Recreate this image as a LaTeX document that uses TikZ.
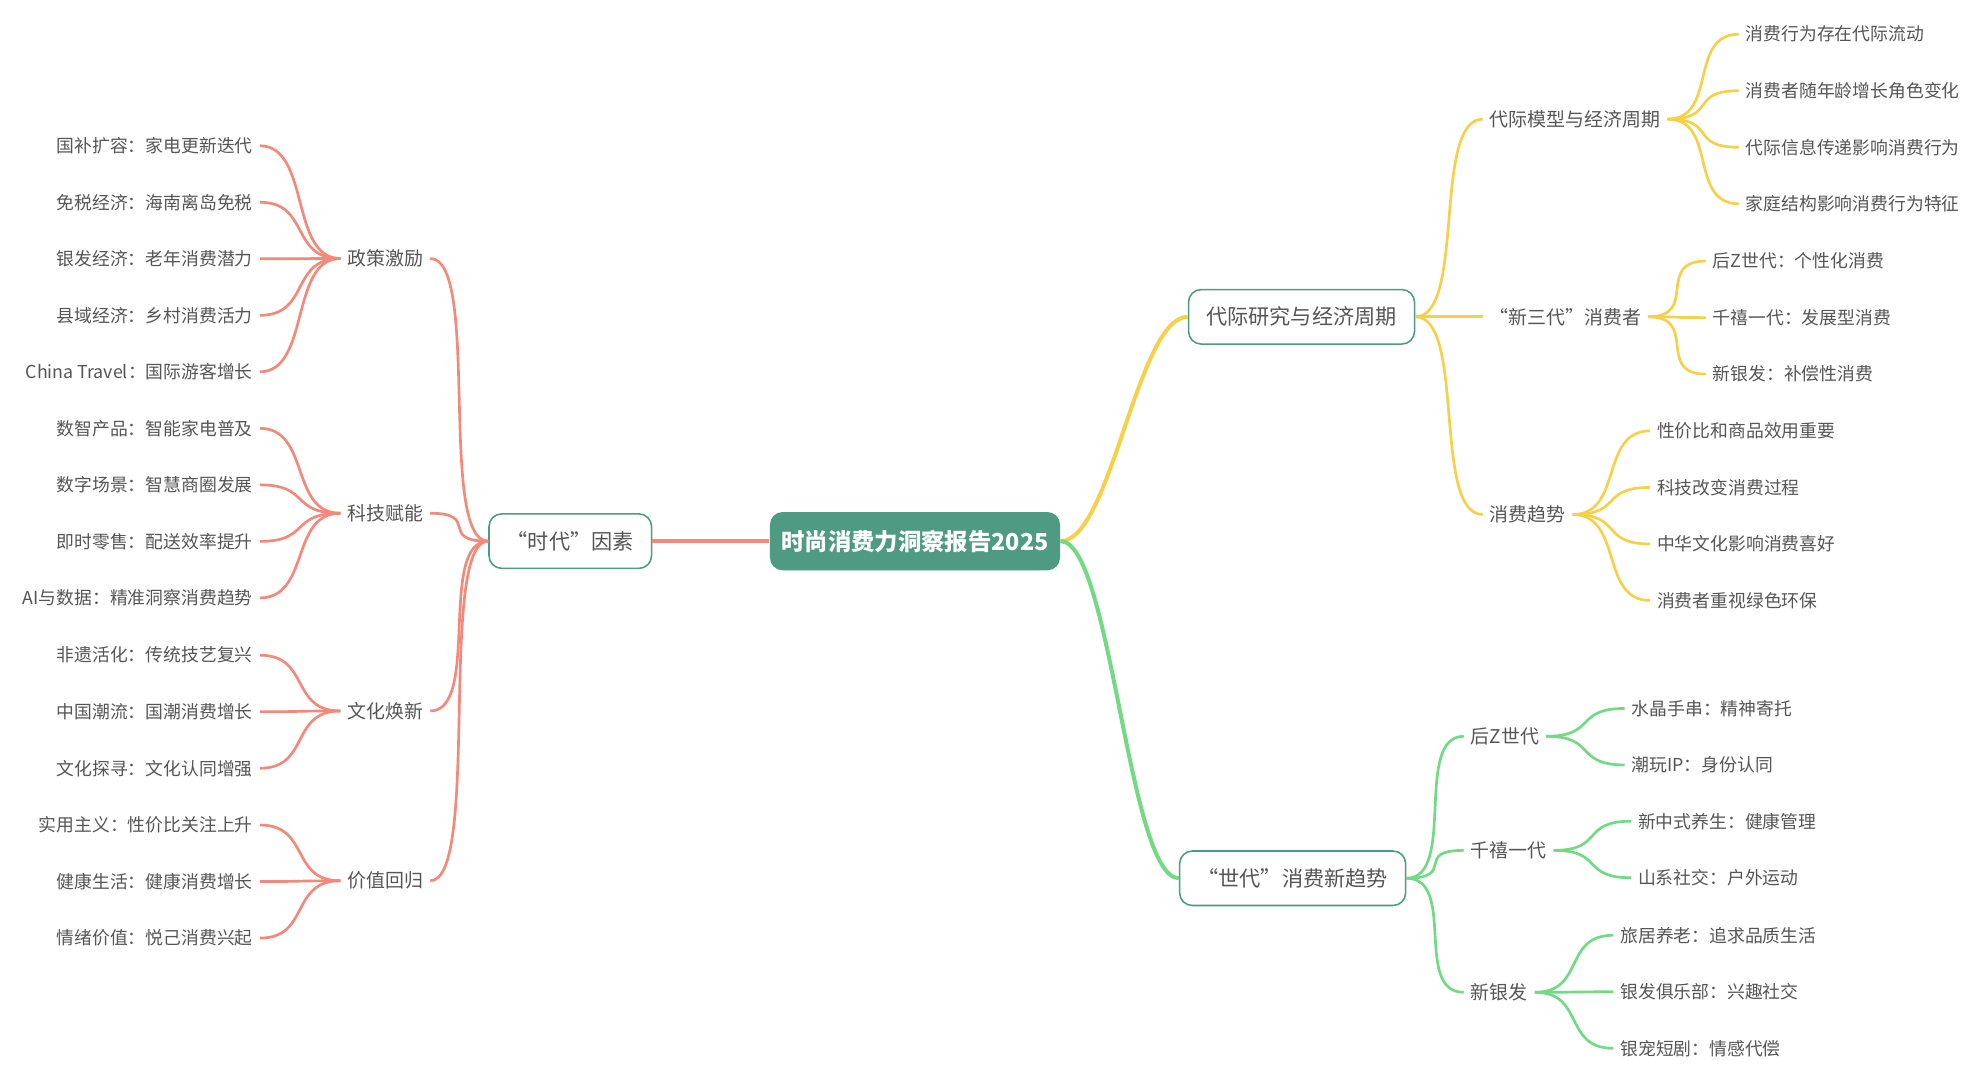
\documentclass[tikz,border=0pt]{standalone}
\usepackage{fontspec}
\setmainfont{Noto Sans CJK SC}
\usetikzlibrary{positioning}
\definecolor{rootteal}{HTML}{4E9A82}
\definecolor{salmon}{HTML}{F2897A}
\definecolor{sun}{HTML}{F7D04A}
\definecolor{leaf}{HTML}{72D984}
\definecolor{txt}{HTML}{555555}
\tikzset{%
     root/.style = { fill=rootteal, text=white, rounded corners=2mm, font=\fontsize{10.5}{12}\selectfont\bfseries,
                     minimum width=4.58cm, minimum height=0.92cm },
     main/.style = { draw=rootteal, fill=white, text=txt, rounded corners=2mm, line width=0.7pt,
                     font=\fontsize{9.5}{11}\selectfont, minimum height=0.86cm, inner xsep=8pt },
      sub/.style = { text=txt, font=\fontsize{8.5}{10}\selectfont, inner sep=3pt },
    leafL/.style = { sub, anchor=east, font=\fontsize{8}{10}\selectfont },
    leafR/.style = { sub, anchor=west, font=\fontsize{8}{10}\selectfont },
     link/.style = { line width=1.2pt },
    trunk/.style = { line width=1.8pt }
}
\newcommand\bough[3][link]{\draw[#1] (#2) .. controls +(40,0) and +(-40,0) .. (#3);}
\newcommand\boughL[3][link]{\draw[#1] (#2) .. controls +(-40,0) and +(40,0) .. (#3);}
\begin{document}
\begin{tikzpicture}[x=0.02cm, y=-0.02cm]
  \useasboundingbox (0,0) rectangle (1560,852);

  \node[root] (root) at (722,427) {时尚消费力洞察报告2025};

  % left side
  \node[main] (era) at (450,427) {“时代”因素};
  \draw[trunk,salmon] (root.west) -- (era.east);

  \node[sub] (policy) at (304,204) {政策激励};
  \node[sub] (tech)   at (304,405) {科技赋能};
  \node[sub] (cult)   at (304,561) {文化焕新};
  \node[sub] (value)  at (304,695) {价值回归};
  \foreach \n in {policy,tech,cult,value}
    \boughL[link,salmon]{era.west}{\n.east};

  \foreach \t [count=\i] in {国补扩容：家电更新迭代,免税经济：海南离岛免税,银发经济：老年消费潜力,
                             县域经济：乡村消费活力,China Travel：国际游客增长}
    \node[leafL] (policy-\i) at (205,115+44.6*\i-44.6) {\t};
  \foreach \t [count=\i] in {数智产品：智能家电普及,数字场景：智慧商圈发展,即时零售：配送效率提升,
                             AI与数据：精准洞察消费趋势}
    \node[leafL] (tech-\i) at (205,338+44.6*\i-44.6) {\t};
  \foreach \t [count=\i] in {非遗活化：传统技艺复兴,中国潮流：国潮消费增长,文化探寻：文化认同增强}
    \node[leafL] (cult-\i) at (205,517+44.6*\i-44.6) {\t};
  \foreach \t [count=\i] in {实用主义：性价比关注上升,健康生活：健康消费增长,情绪价值：悦己消费兴起}
    \node[leafL] (value-\i) at (205,651+44.6*\i-44.6) {\t};

  \foreach \i in {1,...,5} \boughL[link,salmon]{policy.west}{policy-\i.east};
  \foreach \i in {1,...,4} \boughL[link,salmon]{tech.west}{tech-\i.east};
  \foreach \i in {1,...,3} \boughL[link,salmon]{cult.west}{cult-\i.east};
  \foreach \i in {1,...,3} \boughL[link,salmon]{value.west}{value-\i.east};

  % right side, upper
  \node[main] (gen) at (1027,250) {代际研究与经济周期};
  \bough[trunk,sun]{root.east}{gen.west}

  \node[sub,anchor=west] (model) at (1170,94)  {代际模型与经济周期};
  \node[sub,anchor=west] (three) at (1170,250) {“新三代”消费者};
  \node[sub,anchor=west] (trend) at (1170,406) {消费趋势};
  \foreach \n in {model,three,trend}
    \bough[link,sun]{gen.east}{\n.west};

  \foreach \t [count=\i] in {消费行为存在代际流动,消费者随年龄增长角色变化,代际信息传递影响消费行为,
                             家庭结构影响消费行为特征}
    \node[leafR] (model-\i) at (1372,27+44.6*\i-44.6) {\t};
  \foreach \t [count=\i] in {后Z世代：个性化消费,千禧一代：发展型消费,新银发：补偿性消费}
    \node[leafR] (three-\i) at (1346,206+44.6*\i-44.6) {\t};
  \foreach \t [count=\i] in {性价比和商品效用重要,科技改变消费过程,中华文化影响消费喜好,消费者重视绿色环保}
    \node[leafR] (trend-\i) at (1302,340+44.6*\i-44.6) {\t};

  \foreach \i in {1,...,4} \bough[link,sun]{model.east}{model-\i.west};
  \foreach \i in {1,...,3} \bough[link,sun]{three.east}{three-\i.west};
  \foreach \i in {1,...,4} \bough[link,sun]{trend.east}{trend-\i.west};

  % right side, lower
  \node[main] (ages) at (1020,693) {“世代”消费新趋势};
  \bough[trunk,leaf]{root.east}{ages.west}

  \node[sub,anchor=west] (genz)  at (1155,581) {后Z世代};
  \node[sub,anchor=west] (mill)  at (1155,671) {千禧一代};
  \node[sub,anchor=west] (silver) at (1155,783) {新银发};
  \foreach \n in {genz,mill,silver}
    \bough[link,leaf]{ages.east}{\n.west};

  \foreach \t [count=\i] in {水晶手串：精神寄托,潮玩IP：身份认同}
    \node[leafR] (genz-\i) at (1282,559+44.6*\i-44.6) {\t};
  \foreach \t [count=\i] in {新中式养生：健康管理,山系社交：户外运动}
    \node[leafR] (mill-\i) at (1287,648+44.6*\i-44.6) {\t};
  \foreach \t [count=\i] in {旅居养老：追求品质生活,银发俱乐部：兴趣社交,银宠短剧：情感代偿}
    \node[leafR] (silver-\i) at (1273,738+44.6*\i-44.6) {\t};

  \foreach \i in {1,2} \bough[link,leaf]{genz.east}{genz-\i.west};
  \foreach \i in {1,2} \bough[link,leaf]{mill.east}{mill-\i.west};
  \foreach \i in {1,...,3} \bough[link,leaf]{silver.east}{silver-\i.west};
\end{tikzpicture}
\end{document}
